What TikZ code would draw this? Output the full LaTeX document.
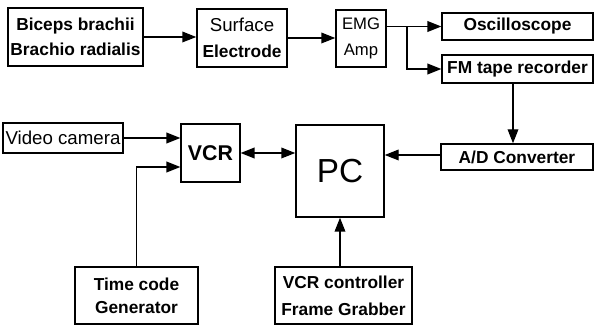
\documentclass[tikz,border=0pt]{standalone}
\usepackage{fontspec}
\setmainfont{Liberation Sans}
\usepackage{tikz}
\usetikzlibrary{arrows.meta}

\tikzset{
    blk/.style={draw, line width=1.1pt, inner sep=0pt, align=center},
    arr/.style={-{Triangle[length=10.5pt,width=8pt]}, line width=1.1pt},
    arrboth/.style={{Triangle[length=10.5pt,width=8pt]}-{Triangle[length=10.5pt,width=8pt]}, line width=1.1pt}
}

\begin{document}
\begin{tikzpicture}[x=0.75pt,y=-0.75pt]
    \useasboundingbox (0,0) rectangle (594,327);

    % top row
    \node[blk, minimum width=101pt, minimum height=43.5pt, font=\fontsize{13}{19}\selectfont\bfseries] (muscle) at (75.5,37) {Biceps brachii\\Brachio radialis};
    \node[blk, minimum width=67.5pt, minimum height=43.5pt, font=\fontsize{14}{20}\selectfont] (electrode) at (242,38) {Surface\\\fontsize{13}{20}\selectfont\textbf{Electrode}};
    \node[blk, minimum width=37.5pt, minimum height=43pt, font=\fontsize{12.5}{20}\selectfont] (amp) at (361,38.5) {EMG\\Amp};
    \node[blk, minimum width=113pt, minimum height=20pt, font=\fontsize{13}{14}\selectfont\bfseries] (scope) at (517.5,26.5) {Oscilloscope};
    \node[blk, minimum width=113pt, minimum height=21pt, font=\fontsize{13}{14}\selectfont\bfseries] (tape) at (517.5,69) {FM tape recorder};

    % middle row
    \node[blk, minimum width=114pt, minimum height=19.5pt, font=\fontsize{13}{14}\selectfont\bfseries] (adc) at (517,157) {A/D Converter};
    \node[blk, minimum width=66pt, minimum height=69pt, font=\fontsize{25}{28}\selectfont] (pc) at (340,171) {PC};
    \node[blk, minimum width=44pt, minimum height=43.5pt, font=\fontsize{16}{18}\selectfont\bfseries] (vcr) at (210.5,153) {VCR};
    \node[blk, minimum width=90pt, minimum height=22.5pt, font=\fontsize{14}{16}\selectfont] (camera) at (63,138) {Video camera};

    % bottom row
    \node[blk, minimum width=92pt, minimum height=42.75pt, font=\fontsize{13}{17}\selectfont\bfseries] (timecode) at (136.5,295.5) {Time code\\Generator};
    \node[blk, minimum width=103pt, minimum height=42.75pt, font=\fontsize{13}{20}\selectfont\bfseries] (grabber) at (343.5,295.5) {VCR controller\\Frame Grabber};

    % connectors
    \coordinate (split) at (407,26.5);
    \draw[arr] (muscle.east) -- (muscle.east -| electrode.west);
    \draw[arr] (electrode.east) -- (electrode.east -| amp.west);
    \draw[arr] (amp.east |- scope.west) -- (scope.west);
    \draw[arr] (split) |- (tape.west);
    \draw[arr] (tape.south -| 513,0) -- (adc.north -| 513,0);
    \draw[arr] (adc.west |- 0,155) -- (pc.east |- 0,155);
    \draw[arr] (camera.east) -- (camera.east -| vcr.west);
    \draw[arr] (timecode.north) |- ([yshift=-10.5pt]vcr.west);
    \draw[arrboth] (vcr.east) -- (vcr.east -| pc.west);
    \draw[arr] (grabber.north -| pc.south) -- (pc.south);
\end{tikzpicture}
\end{document}
